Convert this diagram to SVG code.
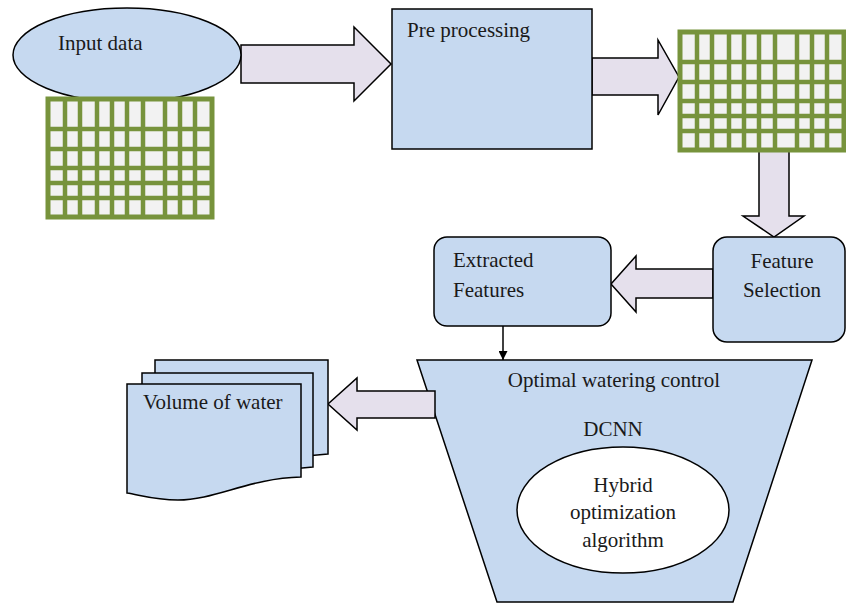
<svg xmlns="http://www.w3.org/2000/svg" width="846" height="606" viewBox="0 0 846 606">
<style>
.node{fill:#C6D9F0;stroke:#000;stroke-width:1.5}
.arw{fill:#E5E0EC;stroke:#000;stroke-width:1.5;stroke-linejoin:miter}
.t{font-family:"Liberation Serif","Times New Roman",serif;font-size:21px;fill:#1a1a1a}
.c{text-anchor:middle}
.gl{stroke:#77933C;stroke-width:4.5;fill:none}
</style>
<defs>
<marker id="ah" viewBox="0 0 10 10" refX="10" refY="5" markerWidth="9" markerHeight="9" markerUnits="userSpaceOnUse" orient="auto">
<path d="M0,0 L10,5 L0,10 Z" fill="#000"/>
</marker>
<g id="grid">
<rect x="0" y="0" width="164" height="118" fill="#F2F2F2" stroke="#77933C" stroke-width="5"/>
<path class="gl" d="M17,0V118M32,0V118M49,0V118M64,0V118M79,0V118M95,0V118M117,0V118M132,0V118M147,0V118M0,30H164M0,50H164M0,69H164M0,84H164M0,99H164"/>
</g>
</defs>

<g id="connectors">
<path class="arw" d="M241,45 H354 V27 L391,64 L354,101 V83 H241 Z"/>
<path class="arw" d="M592,58 H658 V40 L679,77 L658,115 V95 H592 Z"/>
<path class="arw" d="M759,149 V216 H743 L774,237 L804,216 H789 V149 Z"/>
<path class="arw" d="M713,269 H636 V256 L611,284 L636,312 V298 H713 Z"/>
<line x1="503" y1="326" x2="503" y2="360" stroke="#000" stroke-width="1.5" marker-end="url(#ah)"/>
</g>

<g id="input-data">
<ellipse class="node" cx="127" cy="55" rx="114" ry="47"/>
<text class="t" x="58" y="50">Input data</text>
<use href="#grid" x="48" y="99"/>
</g>

<g id="pre-processing">
<rect class="node" x="392" y="9" width="200" height="140"/>
<text class="t" x="407" y="37">Pre processing</text>
</g>

<g id="processed-data">
<use href="#grid" x="680" y="32"/>
</g>

<g id="feature-selection">
<rect class="node" x="713" y="237" width="132" height="105" rx="14"/>
<text class="t c" x="782" y="268">Feature</text>
<text class="t c" x="782" y="297">Selection</text>
</g>

<g id="extracted-features">
<rect class="node" x="434" y="237" width="177" height="89" rx="13"/>
<text class="t" x="453" y="267">Extracted</text>
<text class="t" x="453" y="297">Features</text>
</g>

<g id="optimal-watering-control">
<path class="node" d="M417,360 H812 L733,602 H497 Z"/>
<text class="t c" x="614" y="387">Optimal watering control</text>
<text class="t c" x="613" y="436">DCNN</text>
<ellipse cx="623" cy="510" rx="106" ry="63" fill="#fff" stroke="#000" stroke-width="1.5"/>
<text class="t c" x="623" y="492">Hybrid</text>
<text class="t c" x="623" y="519">optimization</text>
<text class="t c" x="623" y="547">algorithm</text>
</g>

<g id="arrow-out">
<path class="arw" d="M435,391 H357 V378 L328,404 L357,430 V418 H435 Z"/>
</g>

<g id="volume-of-water">
<path class="node" d="M155,360 H328 V454 C300,456 280,460 250,466 L155,466 Z"/>
<path class="node" d="M142,373 H313 V467 C285,469 265,473 235,479 L142,479 Z"/>
<path class="node" d="M127,384 H301 V477 C250,478 215,500 178,500 C155,500 140,495 127,493 Z"/>
<text class="t" x="143" y="409">Volume of water</text>
</g>
</svg>
